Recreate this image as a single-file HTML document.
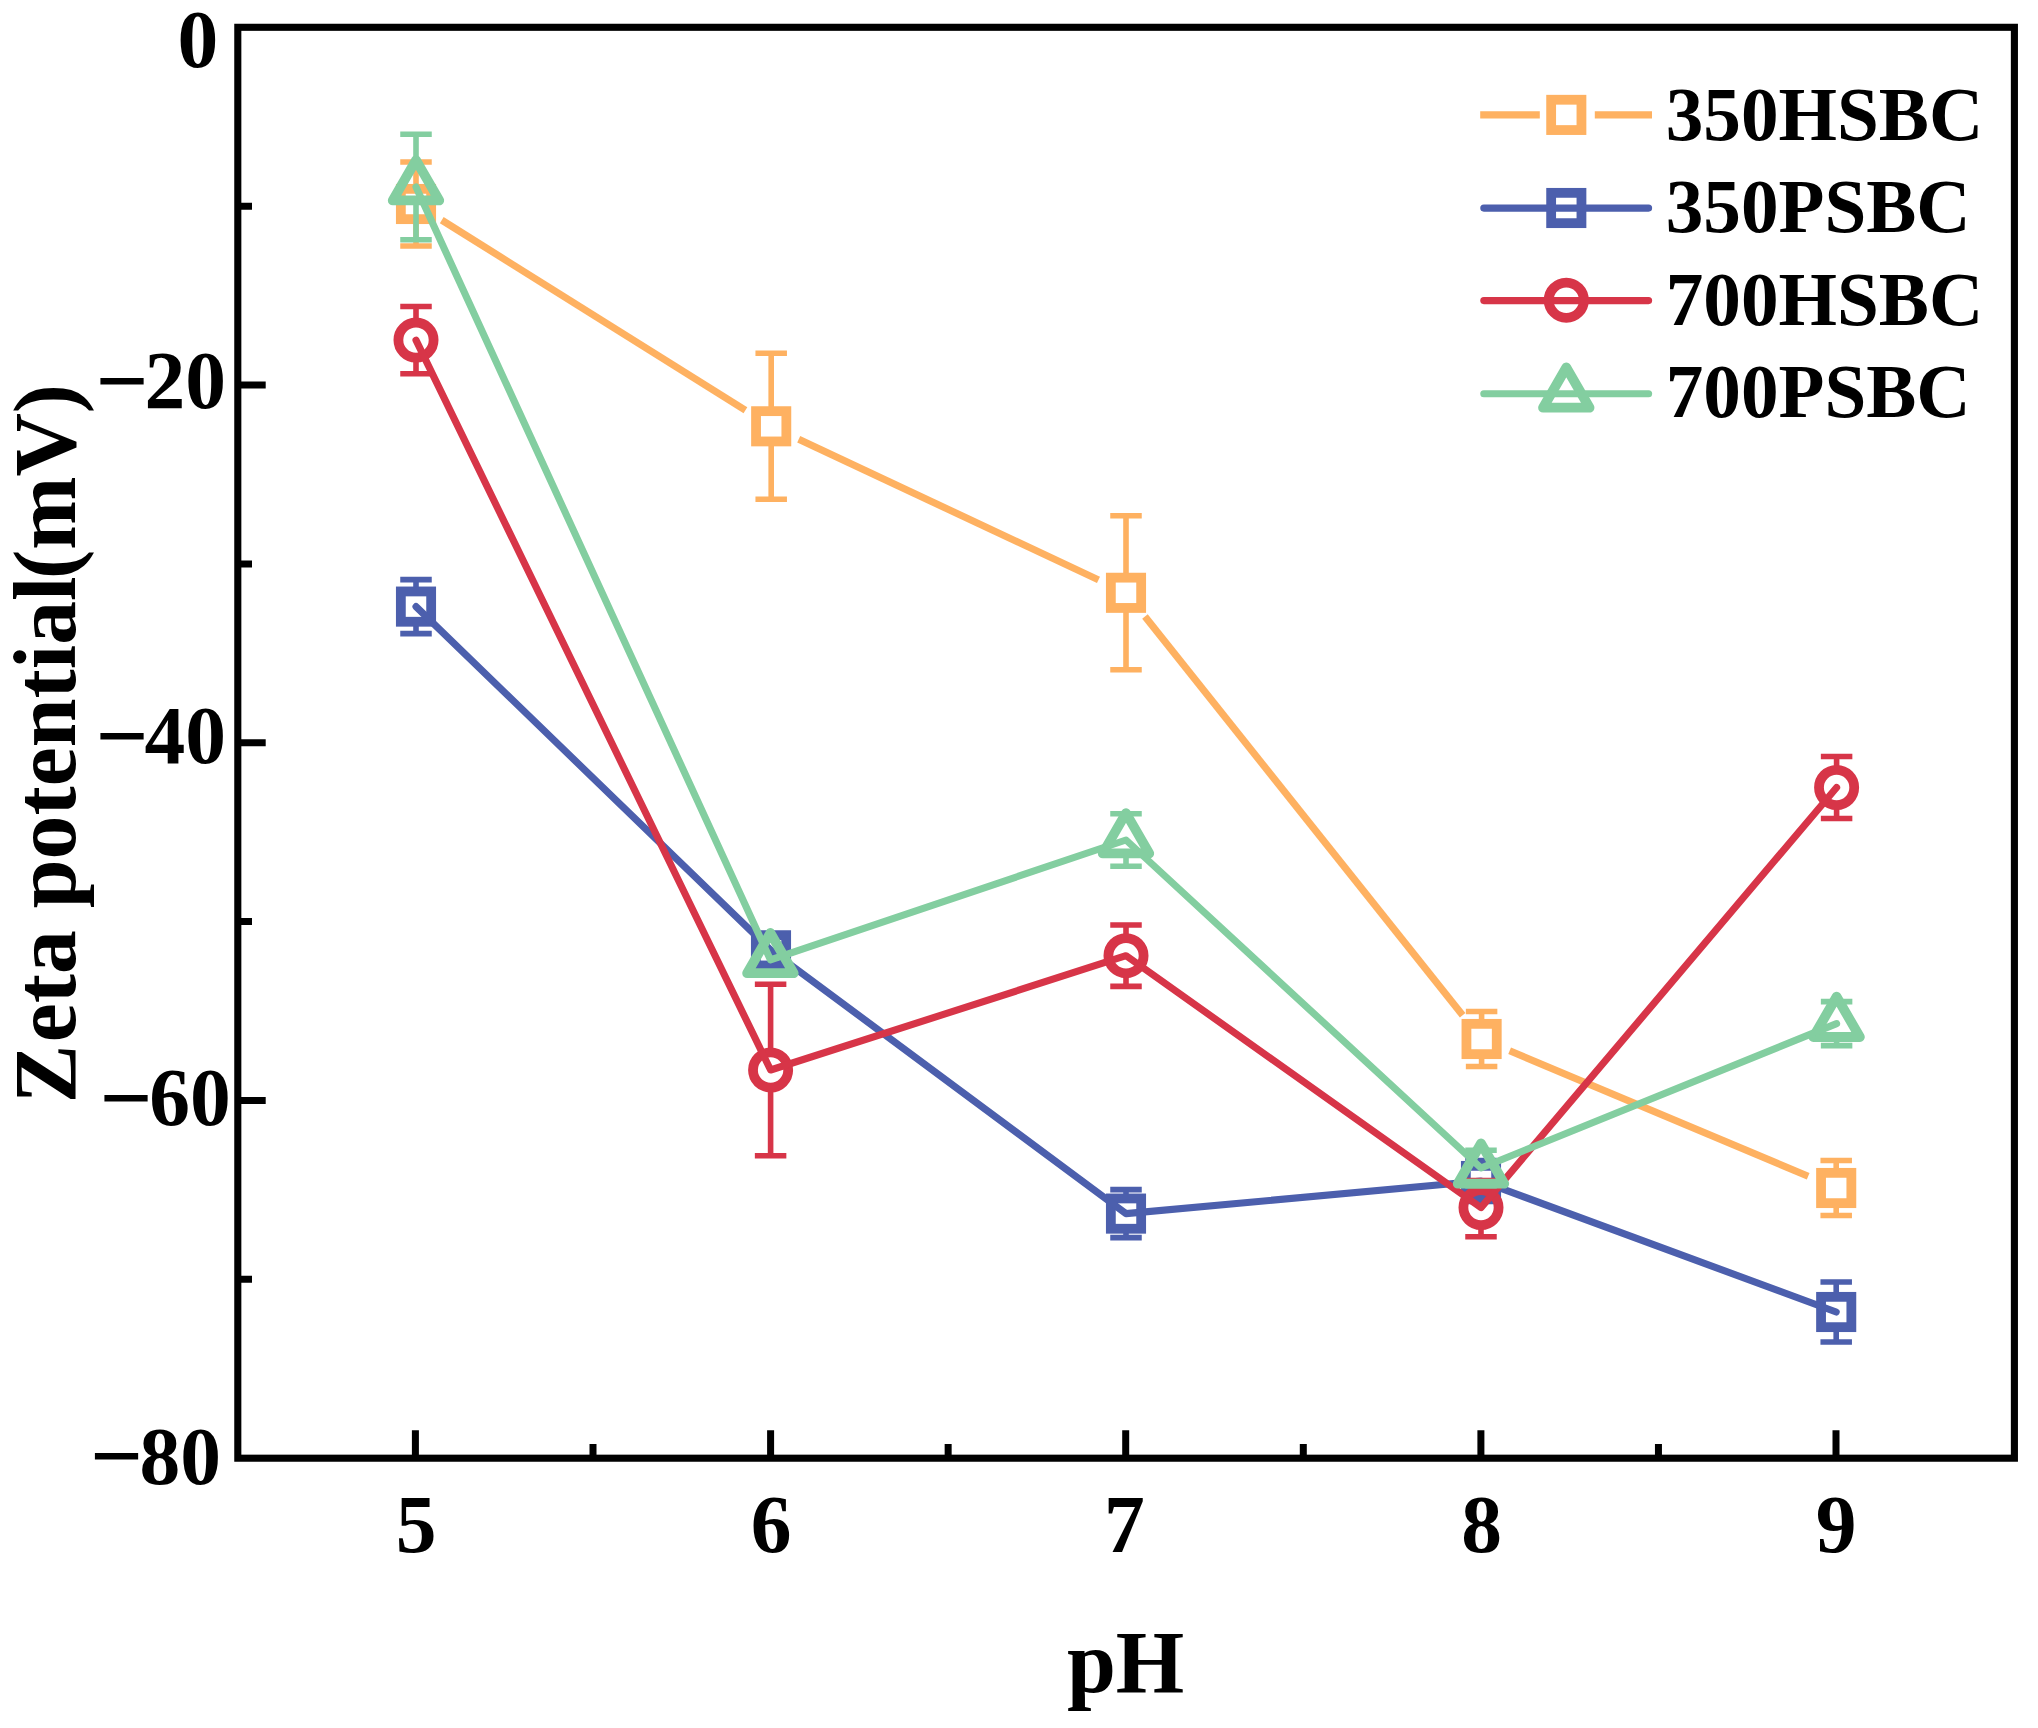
<!DOCTYPE html>
<html lang="en"><head><meta charset="utf-8"><title>Zeta potential vs pH</title>
<style>html,body{margin:0;padding:0;background:#fff}svg{display:block}text{font-family:"Liberation Serif","Times New Roman",serif;font-weight:bold;fill:#000}</style>
</head><body>
<svg width="2038" height="1728" viewBox="0 0 2038 1728">
<rect x="0" y="0" width="2038" height="1728" fill="#fff"/>
<g stroke="#FEB161" fill="none">
<path d="M416.00 162.00V190.85M416.00 217.15V246.00M400.25 162.00H431.75M400.25 246.00H431.75" stroke-width="5.6"/>
<path d="M771.20 353.30V413.15M771.20 439.45V499.30M755.45 353.30H786.95M755.45 499.30H786.95" stroke-width="5.6"/>
<path d="M1126.00 515.80V579.65M1126.00 605.95V669.80M1110.25 515.80H1141.75M1110.25 669.80H1141.75" stroke-width="5.6"/>
<path d="M1481.60 1011.50V1025.85M1481.60 1052.15V1066.50M1465.85 1011.50H1497.35M1465.85 1066.50H1497.35" stroke-width="5.6"/>
<path d="M1836.20 1160.50V1174.85M1836.20 1201.15V1215.50M1820.45 1160.50H1851.95M1820.45 1215.50H1851.95" stroke-width="5.6"/>
<rect x="400.85" y="188.85" width="30.3" height="30.3" fill="none" stroke="#FEB161" stroke-width="9.8"/>
<rect x="756.05" y="411.15" width="30.3" height="30.3" fill="none" stroke="#FEB161" stroke-width="9.8"/>
<rect x="1110.85" y="577.65" width="30.3" height="30.3" fill="none" stroke="#FEB161" stroke-width="9.8"/>
<rect x="1466.45" y="1023.85" width="30.3" height="30.3" fill="none" stroke="#FEB161" stroke-width="9.8"/>
<rect x="1821.05" y="1172.85" width="30.3" height="30.3" fill="none" stroke="#FEB161" stroke-width="9.8"/>
<line x1="441.77" y1="220.13" x2="745.43" y2="410.17" stroke-width="7.1"/>
<line x1="798.72" y1="439.21" x2="1098.48" y2="579.89" stroke-width="7.1"/>
<line x1="1144.95" y1="616.57" x2="1462.65" y2="1015.23" stroke-width="7.1"/>
<line x1="1509.63" y1="1050.78" x2="1808.17" y2="1176.22" stroke-width="7.1"/>
</g>
<g stroke="#4C5FAD" fill="none">
<path d="M416.00 579.60V593.45M416.00 619.75V633.60M400.25 579.60H431.75M400.25 633.60H431.75" stroke-width="5.6"/>
<path d="M1126.00 1189.60V1200.45M1126.00 1226.75V1237.60M1110.25 1189.60H1141.75M1110.25 1237.60H1141.75" stroke-width="5.6"/>
<path d="M1481.00 1160.50V1167.85M1481.00 1194.15V1201.50M1465.25 1160.50H1496.75M1465.25 1201.50H1496.75" stroke-width="5.6"/>
<path d="M1836.20 1282.00V1298.85M1836.20 1325.15V1342.00M1820.45 1282.00H1851.95M1820.45 1342.00H1851.95" stroke-width="5.6"/>
<rect x="400.85" y="591.45" width="30.3" height="30.3" fill="none" stroke="#4C5FAD" stroke-width="9.8"/>
<rect x="755.85" y="935.15" width="30.3" height="30.3" fill="none" stroke="#4C5FAD" stroke-width="9.8"/>
<rect x="1110.85" y="1198.45" width="30.3" height="30.3" fill="none" stroke="#4C5FAD" stroke-width="9.8"/>
<rect x="1465.85" y="1165.85" width="30.3" height="30.3" fill="none" stroke="#4C5FAD" stroke-width="9.8"/>
<rect x="1821.05" y="1296.85" width="30.3" height="30.3" fill="none" stroke="#4C5FAD" stroke-width="9.8"/>
<path d="M416.00 606.60L771.00 950.30L1126.00 1213.60L1481.00 1181.00L1836.20 1312.00" stroke-width="7.1" stroke-linecap="round" stroke-linejoin="round"/>
</g>
<g stroke="#D73548" fill="none">
<path d="M416.00 306.50V324.50M416.00 355.70V373.70M400.25 306.50H431.75M400.25 373.70H431.75" stroke-width="5.6"/>
<path d="M770.60 984.30V1054.40M770.60 1085.60V1155.70M754.85 984.30H786.35M754.85 1155.70H786.35" stroke-width="5.6"/>
<path d="M1126.00 925.00V940.10M1126.00 971.30V986.40M1110.25 925.00H1141.75M1110.25 986.40H1141.75" stroke-width="5.6"/>
<path d="M1481.00 1180.60V1192.00M1481.00 1223.20V1236.80M1465.25 1180.60H1496.75M1465.25 1236.80H1496.75" stroke-width="5.6"/>
<path d="M1836.60 756.50V771.90M1836.60 803.10V818.50M1820.85 756.50H1852.35M1820.85 818.50H1852.35" stroke-width="5.6"/>
<circle cx="416.00" cy="340.10" r="17.6" fill="none" stroke="#D73548" stroke-width="9.8"/>
<circle cx="770.60" cy="1070.00" r="17.6" fill="none" stroke="#D73548" stroke-width="9.8"/>
<circle cx="1126.00" cy="955.70" r="17.6" fill="none" stroke="#D73548" stroke-width="9.8"/>
<circle cx="1481.00" cy="1207.60" r="17.6" fill="none" stroke="#D73548" stroke-width="9.8"/>
<circle cx="1836.60" cy="787.50" r="17.6" fill="none" stroke="#D73548" stroke-width="9.8"/>
<path d="M416.00 340.10L770.60 1070.00L1126.00 955.70L1481.00 1207.60L1836.60 787.50" stroke-width="7.1" stroke-linecap="round" stroke-linejoin="round"/>
</g>
<g stroke="#83CEA0" fill="none">
<path d="M416.00 134.30V162.15M416.00 198.42V239.70M400.25 134.30H431.75M400.25 239.70H431.75" stroke-width="5.6"/>
<path d="M1126.00 813.80V815.15M1126.00 851.42V866.20M1110.25 813.80H1141.75M1110.25 866.20H1141.75" stroke-width="5.6"/>
<path d="M1481.00 1150.30V1143.15M1481.00 1179.42V1185.70M1465.25 1150.30H1496.75M1465.25 1185.70H1496.75" stroke-width="5.6"/>
<path d="M1836.60 1001.60V998.75M1836.60 1035.02V1045.60M1820.85 1001.60H1852.35M1820.85 1045.60H1852.35" stroke-width="5.6"/>
<path d="M416.00 160.15L439.25 200.42L392.75 200.42Z" fill="none" stroke="#83CEA0" stroke-width="9.8" stroke-linejoin="round"/>
<path d="M770.40 932.95L793.65 973.22L747.15 973.22Z" fill="none" stroke="#83CEA0" stroke-width="9.8" stroke-linejoin="round"/>
<path d="M1126.00 813.15L1149.25 853.42L1102.75 853.42Z" fill="none" stroke="#83CEA0" stroke-width="9.8" stroke-linejoin="round"/>
<path d="M1481.00 1143.45L1504.25 1183.72L1457.75 1183.72Z" fill="none" stroke="#83CEA0" stroke-width="9.8" stroke-linejoin="round"/>
<path d="M1836.60 996.75L1859.85 1037.02L1813.35 1037.02Z" fill="none" stroke="#83CEA0" stroke-width="9.8" stroke-linejoin="round"/>
<path d="M416.00 187.00L770.40 959.80L1126.00 840.00L1481.00 1168.00L1836.60 1023.60" stroke-width="7.1" stroke-linecap="round" stroke-linejoin="round"/>
</g>
<rect x="237.8" y="27.3" width="1776.6000000000001" height="1430.9" fill="none" stroke="#000" stroke-width="7.1"/>
<path d="M415.40 1458.2V1430.3M770.60 1458.2V1430.3M1125.70 1458.2V1430.3M1480.90 1458.2V1430.3M1836.00 1458.2V1430.3M593.00 1458.2V1444.0M948.15 1458.2V1444.0M1303.30 1458.2V1444.0M1658.45 1458.2V1444.0M237.8 385.03H265.7M237.8 742.75H265.7M237.8 1100.48H265.7M237.8 206.16H252.0M237.8 563.89H252.0M237.8 921.61H252.0M237.8 1279.34H252.0" fill="none" stroke="#000" stroke-width="7.0"/>
<text x="416.1" y="1552.4" font-size="81.5" text-anchor="middle">5</text>
<text x="771.2" y="1552.4" font-size="81.5" text-anchor="middle">6</text>
<text x="1124.3" y="1552.4" font-size="81.5" text-anchor="middle">7</text>
<text x="1481.6" y="1552.4" font-size="81.5" text-anchor="middle">8</text>
<text x="1836.2" y="1552.4" font-size="81.5" text-anchor="middle">9</text>
<text x="177.6" y="67.4" font-size="81.5">0</text>
<text font-size="81.5"><tspan x="95.5" y="412.2" font-size="93">−</tspan><tspan x="144.5" y="408.3">20</tspan></text>
<text font-size="81.5"><tspan x="95.5" y="766.5" font-size="93">−</tspan><tspan x="144.5" y="762.9">40</tspan></text>
<text font-size="81.5"><tspan x="99.4" y="1129.0" font-size="93">−</tspan><tspan x="149.2" y="1125.4">60</tspan></text>
<text font-size="81.5"><tspan x="90.1" y="1487.3" font-size="93">−</tspan><tspan x="139.4" y="1483.6">80</tspan></text>
<text x="1125.6" y="1692" font-size="88" text-anchor="middle">pH</text>
<text transform="translate(75.4 743.6) rotate(-90)" font-size="87.8" text-anchor="middle">Z<tspan dx="2.4">eta potential</tspan><tspan dx="-2.4">(mV)</tspan></text>
<g stroke="#FEB161" fill="none">
<rect x="1551.15" y="99.75" width="30.3" height="30.3" fill="none" stroke="#FEB161" stroke-width="9.8"/>
<path d="M1480.2 114.9H1539.8M1594.8 114.9H1652" stroke-width="7.1"/>
</g>
<text x="1665.7" y="139.6" font-size="75.2">350HSBC</text>
<g stroke="#4C5FAD" fill="none">
<rect x="1551.15" y="192.85" width="30.3" height="30.3" fill="none" stroke="#4C5FAD" stroke-width="9.8"/>
<path d="M1483.8 208.1H1648.6" stroke-width="7.1" stroke-linecap="round"/>
</g>
<text x="1665.7" y="232.3" font-size="75.2">350PSBC</text>
<g stroke="#D73548" fill="none">
<circle cx="1566.30" cy="300.20" r="17.6" fill="none" stroke="#D73548" stroke-width="9.8"/>
<path d="M1483.8 300.6H1648.6" stroke-width="7.1" stroke-linecap="round"/>
</g>
<text x="1665.7" y="325.1" font-size="75.2">700HSBC</text>
<g stroke="#83CEA0" fill="none">
<path d="M1566.30 367.45L1589.55 407.72L1543.05 407.72Z" fill="none" stroke="#83CEA0" stroke-width="9.8" stroke-linejoin="round"/>
<path d="M1483.8 393.8H1648.6" stroke-width="7.1" stroke-linecap="round"/>
</g>
<text x="1665.7" y="417.3" font-size="75.2">700PSBC</text>
</svg></body></html>
